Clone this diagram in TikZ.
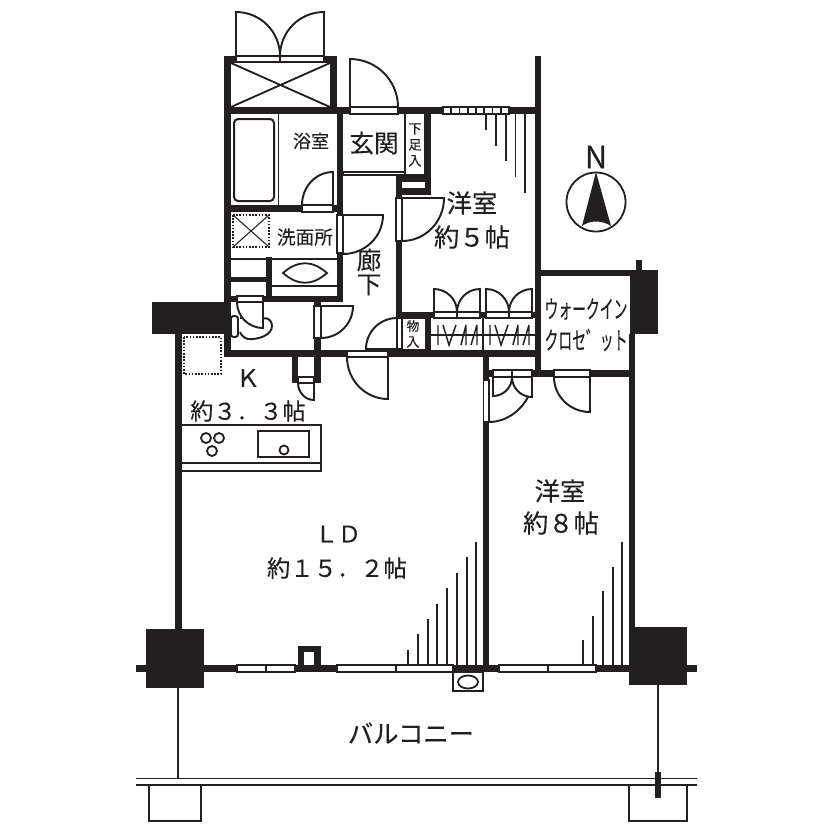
\documentclass[tikz,border=0pt]{standalone}
\usepackage{fontspec}
\newfontfamily\jp[FakeBold=0.15]{Noto Sans CJK JP}
\definecolor{ink}{HTML}{231F20}
\tikzset{
  x=0.75pt,y=-0.75pt,
  wall/.style={fill=ink,draw=none},
  ln/.style={draw=ink,line width=1.5pt,line join=miter},
  thin/.style={draw=ink,line width=1.35pt},
  opening/.style={draw=ink,fill=white,line width=1.25pt},
  leaf/.style={draw=ink,fill=white,line width=1.45pt},
  dotbox/.style={draw=ink,line width=1pt,dash pattern=on 1.2pt off 1.2pt},
  label/.style={inner sep=0pt,text=ink,font=\jp},
}
\newcommand{\fs}[1]{\fontsize{#1}{#1}\selectfont}
\newcommand{\wl}[4]{\fill[wall] (#1,#2) rectangle (#3,#4);}
\newcommand{\op}[4]{\draw[opening] ({#1},{#2}) rectangle ({#3},{#4});}
% door: hinge x,y ; leaf end x,y ; arc end x,y
\newcommand{\dr}[6]{\draw[leaf] ({#1},{#2}) -- ({#3},{#4}) .. controls ({(#3)+0.5523*((#5)-(#1))},{(#4)+0.5523*((#6)-(#2))}) and ({(#5)+0.5523*((#3)-(#1))},{(#6)+0.5523*((#4)-(#2))}) .. ({#5},{#6}) -- cycle;}
\begin{document}
\begin{tikzpicture}
\useasboundingbox[fill=white] (0,0) rectangle (833,833);
% ---- walls
\wl{224}{56}{231}{357}
\wl{224}{56}{337}{63}
\wl{330}{56}{337}{114}
\wl{224}{107}{535}{114}
\wl{337}{107}{343}{215}
\wl{224}{205}{343}{212}
\wl{337}{253}{343}{302}
\wl{224}{296}{343}{302}
\wl{266}{257}{272}{296}
\wl{231}{277}{266}{282}
\wl{152}{302}{231}{334}
\wl{224}{334}{231}{357}
\wl{175}{334}{182}{629}
\wl{224}{350}{535}{357}
\wl{314}{302}{321}{383}
\wl{292}{357}{298}{383}
\wl{292}{377}{321}{383}
\wl{424}{107}{431}{195}
\wl{396}{175}{431}{195}
\wl{396}{175}{402}{318}
\wl{396}{312}{535}{318}
\wl{425}{318}{431}{350}
\wl{535}{56}{541}{377}
\wl{541}{270}{635}{276}
\wl{630}{270}{658}{334}
\wl{636}{260}{642}{270}
\wl{629}{334}{635}{630}
\wl{483}{357}{489}{665}
\wl{483}{370}{635}{377}
\wl{136}{665}{697}{672}
\wl{146}{629}{204}{688}
\wl{629}{627}{687}{685}
\wl{298}{646}{321}{665}
\fill[white] (304,652) rectangle (314,665);
\fill[white] (402,182) rectangle (425,188);
% ---- top closet
\draw[thin] (231,63) -- (330,107) (330,63) -- (231,107);
\op{236.5}{56}{280}{62}\op{280}{56}{323.5}{62}
\dr{236}{56}{236}{12}{280}{56}
\dr{324}{56}{324}{12}{280}{56}
% ---- bath
\draw[ln,rounded corners=3pt] (234,119) rectangle (274,201);
\draw[thin] (278.5,114) -- (278.5,205);
\op{302}{205}{333}{212}
\dr{333}{205}{333}{172}{302}{205}
% ---- entrance
\op{350}{107}{398}{114}
\dr{350}{107}{350}{59}{398}{107}
\op{343}{172}{405}{175}
\draw[thin] (405,114) -- (405,175) -- (424,175);
% ---- washroom
\draw[dotbox] (233,215) rectangle (269,247);
\draw[thin,line width=.8pt] (233,215) -- (269,247) (269,215) -- (233,247);
\draw[thin] (231,259) -- (337,259) (272,286) -- (337,286);
\draw[thin] (283,273) .. controls (298,260) and (312,260) .. (327,273) .. controls (312,286) and (298,286) .. (283,273) -- cycle;
\op{337}{215}{343}{253}
\dr{343}{215}{383}{215}{343}{254}
% ---- toilet
\draw[leaf,rounded corners=2pt] (231,316) rectangle (238,337);
\draw[leaf] (240,318) .. controls (250,316) and (252,327) .. (258,325) .. controls (262,314) and (272,318) .. (272,326) .. controls (272,335) and (258,340) .. (248,339) .. controls (244,338) and (241,335) .. (240,332);
\op{237}{296}{263}{302}
\dr{263}{302}{263}{328}{237}{302}
\op{314}{306}{321}{338}
\dr{321}{306}{353}{306}{321}{338}
% ---- small door kitchen
\op{298}{377}{314}{383}
\dr{314}{383}{314}{400}{298}{383}
% ---- corridor doors
\op{347}{351}{388}{357}
\dr{388}{357}{388}{399}{347}{357}
\op{396}{318}{402}{349}
\dr{397}{349}{366}{349}{397}{318}
\op{396}{198}{402}{241}
\dr{402}{198}{444}{198}{402}{241}
% ---- room 5 window and blinds
\op{443}{107}{509}{114}
\foreach \k in {451.25,459.5,467.75,476,484.25,492.5,500.75}{\draw[thin] (\k,107) -- (\k,114);}
\foreach \k/\e in {486/130,496/146,506/161,515.5/177,525/193}{\draw[thin] (\k,114) -- (\k,\e);}
% ---- storage
\draw[thin] (402,318) -- (425,318) (402,350) -- (425,350);
\draw[draw=ink,line width=1.6pt] (483,318) -- (483,350);
\draw[thin] (431,335) -- (535,335);
\foreach \o in {0,52}{
  \draw[thin,line width=1.1pt] ({\o+438},325) -- ({\o+438},345)
   ({\o+443},325) -- ({\o+449},345) -- ({\o+456},325)
   ({\o+461},345) -- ({\o+466},325)
   ({\o+466},325) -- ({\o+466},345)
   ({\o+471},345) -- ({\o+477},325)
   ({\o+477},325) -- ({\o+477},345);
  \op{\o+434}{312}{\o+457}{318}\op{\o+457}{312}{\o+480}{318}
  \dr{\o+434}{312}{\o+434}{289}{\o+457}{312}
  \dr{\o+480}{312}{\o+480}{289}{\o+457}{312}
}
% ---- doors bedroom
\op{554}{370}{590}{377}
\dr{590}{377}{590}{412}{554}{377}
\draw[leaf] (489,422) .. controls (505,422) and (520,412) .. (528,397);
\op{483.5}{380}{489}{422}
\draw[thin] (483,422) -- (489,422);
\op{493}{370}{512}{377}\op{512}{370}{532}{377}
\dr{493}{377}{493}{396}{512}{377}
\dr{532}{377}{532}{397}{512}{377}
% ---- kitchen
\draw[dotbox] (184,337) rectangle (221,374);
\draw[thin] (182,425) -- (321,425) -- (321,471) -- (182,471) (182,463) -- (321,463);
\draw[thin] (258,431) rectangle (309,457);
\draw[thin] (284,450) circle[radius=4.5];
\draw[thin] (206,438) circle[radius=5] (219,438) circle[radius=5] (212,451) circle[radius=5];
% ---- south windows
\op{237}{665}{266}{672}\op{266}{665}{295}{672}
\op{337}{665}{396}{672}\op{396}{665}{453}{672}
\op{499}{665}{548}{672}\op{548}{665}{596}{672}
\draw[thin] (453,672) rectangle (483,691);
\draw[thin] (468,682) ellipse[x radius=10,y radius=6.5];
\foreach \k/\e in {408/650,418/634,428/619,437/604,447/588,457/573,467/557,476/542,583/640,593/616,603/591,613/567,622/542}{\draw[thin] (\k,665) -- (\k,\e);}
% ---- balcony
\draw[thin] (178,688) -- (178,778.5);
\draw[thin,line width=1.7pt] (658,685) -- (658,772);
\draw[thin] (136,778.5) -- (697,778.5) (136,785) -- (697,785);
\draw[thin] (149,785) -- (149,821) -- (201,821) -- (201,785);
\draw[thin] (629,785) -- (629,821) -- (687,821) -- (687,785);
\wl{655}{772}{661}{798}
% ---- compass
\draw[thin] (596,202) circle[radius=29.5];
\fill[ink] (596,172) -- (611,226) .. controls (602,220) and (590,220) .. (582,226) -- cycle;
% ---- labels
\node[label] at (596,157) {\fs{23}N};
\node[label] at (311,141) {\fs{13.5}浴室};
\node[label] at (374,143) {\fs{18.5}玄関};
\node[label,align=center] at (415,145) {\fs{10}下\\足\\入};
\node[label] at (305,237) {\fs{14}洗面所};
\node[label] at (369,260) {\fs{18.5}廊};
\node[label] at (369,285) {\fs{18.5}下};
\node[label] at (472,203) {\fs{19}洋室};
\node[label] at (472,237) {\fs{19}約５帖};
\node[label,align=center] at (413,334) {\fs{9.5}物\\入};
\node[label] at (586,309) {\scalebox{.56}[1]{\fs{18.5}ウォークイン}};
\node[label] at (586,340) {\scalebox{.56}[1]{\fs{18.5}クロセ゛ット}};
\node[label] at (248,378) {\fs{18}Ｋ};
\node[label] at (248,411) {\fs{17.3}約３．３帖};
\node[label] at (338,534) {\fs{17.3}ＬＤ};
\node[label] at (337,568) {\fs{17.5}約１５．２帖};
\node[label] at (560,491) {\fs{19}洋室};
\node[label] at (561,523) {\fs{19}約８帖};
\node[label] at (411,733) {\fs{19}バルコニー};
\end{tikzpicture}
\end{document}
